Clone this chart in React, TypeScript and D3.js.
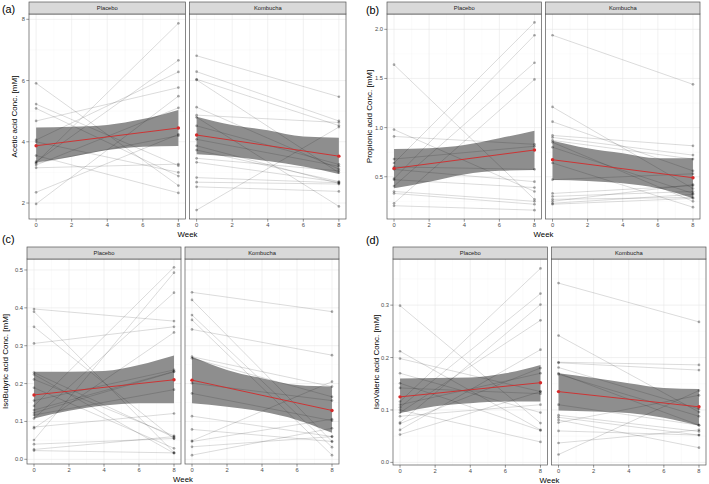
import React from 'react';
import * as d3 from 'd3';

const FONT = '"Liberation Sans", Arial, Helvetica, sans-serif';

const weekTicks = [0, 2, 4, 6, 8];
const bandWeeks = [0, 2, 4, 6, 8];

// (a) acetic acid, mM — one entry per subject, week 0 and week 8
const aceticPlacebo0 = [5.91, 5.23, 5.09, 4.68, 4.06, 4.0, 3.55, 3.35, 3.32, 3.3, 3.24, 3.15, 2.35, 1.97];
const aceticPlacebo8 = [2.57, 3.22, 2.88, 5.77, 6.28, 3.0, 2.33, 6.66, 7.87, 4.2, 5.11, 3.27, 4.24, 5.49];
const aceticPlaceboFit = [3.87, 4.45];
const aceticPlaceboLo = [3.32, 3.51, 3.73, 3.84, 3.86];
const aceticPlaceboHi = [4.47, 4.49, 4.55, 4.74, 5.04];

const aceticKombucha0 = [6.81, 6.29, 6.04, 6.02, 5.13, 4.87, 4.8, 4.52, 4.08, 3.87, 3.73, 3.46, 3.33, 2.83, 2.68, 2.53, 1.77];
const aceticKombucha8 = [5.47, 4.68, 4.53, 2.99, 3.11, 4.63, 1.89, 3.26, 3.2, 2.64, 2.7, 3.05, 2.68, 2.66, 2.62, 2.38, 4.48];
const aceticKombuchaFit = [4.22, 3.53];
const aceticKombuchaLo = [3.59, 3.51, 3.37, 3.19, 2.95];
const aceticKombuchaHi = [4.82, 4.55, 4.38, 4.17, 4.13];

// (b) propionic acid
const propPlacebo0 = [1.64, 0.98, 0.91, 0.68, 0.64, 0.6, 0.575, 0.48, 0.47, 0.405, 0.35, 0.33, 0.23, 0.205];
const propPlacebo8 = [0.27, 0.35, 0.83, 0.81, 2.07, 0.575, 0.45, 1.94, 0.39, 1.66, 0.25, 0.22, 1.49, 0.16];
const propPlaceboFit = [0.585, 0.772];
const propPlaceboLo = [0.382, 0.45, 0.524, 0.561, 0.568];
const propPlaceboHi = [0.782, 0.789, 0.822, 0.891, 0.968];

const propKombucha0 = [1.94, 1.21, 1.06, 0.92, 0.9, 0.87, 0.85, 0.8, 0.64, 0.47, 0.33, 0.3, 0.27, 0.25, 0.23, 0.22];
const propKombucha8 = [1.44, 0.38, 0.56, 0.815, 0.72, 0.68, 0.25, 0.33, 0.19, 0.53, 0.41, 0.35, 0.29, 0.42, 0.32, 0.28];
const propKombuchaFit = [0.673, 0.49];
const propKombuchaLo = [0.466, 0.456, 0.433, 0.382, 0.28];
const propKombuchaHi = [0.866, 0.789, 0.738, 0.687, 0.687];

// (c) isobutyric acid
const isoButPlacebo0 = [0.397, 0.39, 0.35, 0.306, 0.229, 0.224, 0.211, 0.189, 0.155, 0.141, 0.13, 0.123, 0.117, 0.108, 0.085, 0.082, 0.051, 0.04, 0.026, 0.023];
const isoButPlacebo8 = [0.365, 0.018, 0.054, 0.35, 0.058, 0.016, 0.062, 0.029, 0.236, 0.507, 0.232, 0.231, 0.184, 0.44, 0.121, 0.335, 0.493, 0.055, 0.06, 0.017];
const isoButPlaceboFit = [0.17, 0.21];
const isoButPlaceboLo = [0.108, 0.128, 0.142, 0.148, 0.148];
const isoButPlaceboHi = [0.231, 0.231, 0.233, 0.249, 0.274];

const isoButKombucha0 = [0.441, 0.421, 0.381, 0.368, 0.343, 0.271, 0.267, 0.201, 0.174, 0.114, 0.079, 0.049, 0.047, 0.033, 0.011];
const isoButKombucha8 = [0.39, 0.047, 0.032, 0.011, 0.275, 0.192, 0.165, 0.155, 0.102, 0.06, 0.047, 0.205, 0.106, 0.06, 0.082];
const isoButKombuchaFit = [0.209, 0.129];
const isoButKombuchaLo = [0.148, 0.139, 0.126, 0.104, 0.07];
const isoButKombuchaHi = [0.271, 0.236, 0.214, 0.196, 0.192];

// (d) isovaleric acid
const isoValPlacebo0 = [0.299, 0.212, 0.198, 0.17, 0.151, 0.142, 0.116, 0.11, 0.105, 0.1, 0.095, 0.088, 0.076, 0.074, 0.062, 0.053];
const isoValPlacebo8 = [0.075, 0.062, 0.135, 0.095, 0.061, 0.131, 0.37, 0.17, 0.322, 0.039, 0.271, 0.11, 0.301, 0.18, 0.215, 0.135];
const isoValPlaceboFit = [0.125, 0.152];
const isoValPlaceboLo = [0.094, 0.107, 0.113, 0.116, 0.116];
const isoValPlaceboHi = [0.16, 0.161, 0.162, 0.17, 0.186];

const isoValKombucha0 = [0.342, 0.242, 0.191, 0.19, 0.181, 0.17, 0.168, 0.11, 0.09, 0.086, 0.081, 0.076, 0.06, 0.037, 0.015];
const isoValKombucha8 = [0.268, 0.096, 0.186, 0.176, 0.102, 0.071, 0.088, 0.071, 0.059, 0.052, 0.028, 0.128, 0.052, 0.062, 0.137];
const isoValKombuchaFit = [0.135, 0.106];
const isoValKombuchaLo = [0.099, 0.097, 0.094, 0.085, 0.07];
const isoValKombuchaHi = [0.17, 0.161, 0.151, 0.142, 0.14];

const panels = [
  {
    tag: '(a)', title: 'Acetic acid Conc. [mM]', yTicks: [2, 4, 6, 8], fmt: d3.format('d'),
    yDomain: [1.478, 8.173], left: 29, right: 346, top: 2, bottom: 219, titleX: 17, tagX: 2, tagY: 13,
    facets: [
      { name: 'Placebo', w0: aceticPlacebo0, w8: aceticPlacebo8, fit: aceticPlaceboFit, lo: aceticPlaceboLo, hi: aceticPlaceboHi },
      { name: 'Kombucha', w0: aceticKombucha0, w8: aceticKombucha8, fit: aceticKombuchaFit, lo: aceticKombuchaLo, hi: aceticKombuchaHi },
    ],
  },
  {
    tag: '(b)', title: 'Propionic acid Conc. [mM]', yTicks: [0.5, 1.0, 1.5, 2.0], fmt: d3.format('.1f'),
    yDomain: [0.07, 2.156], left: 387, right: 700, top: 2, bottom: 219, titleX: 372, tagX: 366, tagY: 14,
    facets: [
      { name: 'Placebo', w0: propPlacebo0, w8: propPlacebo8, fit: propPlaceboFit, lo: propPlaceboLo, hi: propPlaceboHi },
      { name: 'Kombucha', w0: propKombucha0, w8: propKombucha8, fit: propKombuchaFit, lo: propKombuchaLo, hi: propKombuchaHi },
    ],
  },
  {
    tag: '(c)', title: 'IsoButyric acid Conc. [mM]', yTicks: [0, 0.1, 0.2, 0.3, 0.4, 0.5], fmt: d3.format('.1f'),
    yDomain: [-0.0124, 0.529], left: 27, right: 339, top: 247, bottom: 464, titleX: 8, tagX: 2, tagY: 243,
    facets: [
      { name: 'Placebo', w0: isoButPlacebo0, w8: isoButPlacebo8, fit: isoButPlaceboFit, lo: isoButPlaceboLo, hi: isoButPlaceboHi },
      { name: 'Kombucha', w0: isoButKombucha0, w8: isoButKombucha8, fit: isoButKombuchaFit, lo: isoButKombuchaLo, hi: isoButKombuchaHi },
    ],
  },
  {
    tag: '(d)', title: 'IsoValeric acid Conc. [mM]', yTicks: [0, 0.1, 0.2, 0.3], fmt: d3.format('.1f'),
    yDomain: [-0.005, 0.388], left: 393, right: 706, top: 247, bottom: 465, titleX: 379, tagX: 366, tagY: 244,
    facets: [
      { name: 'Placebo', w0: isoValPlacebo0, w8: isoValPlacebo8, fit: isoValPlaceboFit, lo: isoValPlaceboLo, hi: isoValPlaceboHi },
      { name: 'Kombucha', w0: isoValKombucha0, w8: isoValKombucha8, fit: isoValKombuchaFit, lo: isoValKombuchaLo, hi: isoValKombuchaHi },
    ],
  },
];

const STRIP_H = 12;
const GAP = 4;

function minorBreaks(ticks: number[], domain: number[]) {
  const step = ticks[1] - ticks[0];
  const out: number[] = [];
  for (let i = -1; i < ticks.length; i++) {
    const m = ticks[0] + (i + 0.5) * step;
    if (m > domain[0] && m < domain[1]) out.push(m);
  }
  return out;
}

function Panel({ p }: { p: any }) {
  const plotTop = p.top + STRIP_H;
  const facetW = (p.right - p.left - GAP) / 2;
  const y = d3.scaleLinear().domain(p.yDomain).range([p.bottom, plotTop]);
  const yMinor = minorBreaks(p.yTicks, p.yDomain);
  const xMinor = [1, 3, 5, 7];

  return (
    <g>
      <text x={p.tagX} y={p.tagY} fontSize={10.8} fill="#000">{p.tag}</text>
      <text transform={`translate(${p.titleX},${(plotTop + p.bottom) / 2}) rotate(-90)`} textAnchor="middle"
        fontSize={8} fill="#000">{p.title}</text>
      {p.yTicks.map((t: number) => (
        <g key={t}>
          <line x1={p.left - 2.7} x2={p.left} y1={y(t)} y2={y(t)} stroke="#333" strokeWidth={0.5} />
          <text x={p.left - 4} y={y(t) + 2} textAnchor="end" fontSize={5.8} fill="#4d4d4d">{p.fmt(t)}</text>
        </g>
      ))}
      <text x={(p.left + p.right) / 2} y={p.bottom + 17.5} textAnchor="middle" fontSize={7.8} fill="#000">Week</text>

      {p.facets.map((f: any, i: number) => {
        const x0 = p.left + i * (facetW + GAP);
        const x = d3.scaleLinear().domain([-0.4, 8.4]).range([x0, x0 + facetW]);
        const band = d3.area<number>()
          .x((_, k) => x(bandWeeks[k]))
          .y0((_, k) => y(f.lo[k]))
          .y1((_, k) => y(f.hi[k]))
          .curve(d3.curveMonotoneX);
        return (
          <g key={f.name}>
            <rect x={x0} y={plotTop} width={facetW} height={p.bottom - plotTop} fill="#fff" />
            {yMinor.map((t: number) => (
              <line key={'ym' + t} x1={x0} x2={x0 + facetW} y1={y(t)} y2={y(t)} stroke="#f2f2f2" strokeWidth={0.35} />
            ))}
            {xMinor.map(t => (
              <line key={'xm' + t} x1={x(t)} x2={x(t)} y1={plotTop} y2={p.bottom} stroke="#f2f2f2" strokeWidth={0.35} />
            ))}
            {p.yTicks.map((t: number) => (
              <line key={'y' + t} x1={x0} x2={x0 + facetW} y1={y(t)} y2={y(t)} stroke="#e8e8e8" strokeWidth={0.6} />
            ))}
            {weekTicks.map(t => (
              <line key={'x' + t} x1={x(t)} x2={x(t)} y1={plotTop} y2={p.bottom} stroke="#e8e8e8" strokeWidth={0.6} />
            ))}

            <path d={band(bandWeeks) || ''} fill="#8e8e8e" />

            {f.w0.map((v: number, k: number) => (
              <line key={'s' + k} x1={x(0)} y1={y(v)} x2={x(8)} y2={y(f.w8[k])}
                stroke="#000" strokeOpacity={0.24} strokeWidth={0.6} />
            ))}
            {f.w0.map((v: number, k: number) => (
              <g key={'p' + k}>
                <circle cx={x(0)} cy={y(v)} r={1.35} fill="#000" fillOpacity={0.32} />
                <circle cx={x(8)} cy={y(f.w8[k])} r={1.35} fill="#000" fillOpacity={0.32} />
              </g>
            ))}

            <line x1={x(0)} y1={y(f.fit[0])} x2={x(8)} y2={y(f.fit[1])} stroke="#d42a2a" strokeWidth={0.9} />
            <circle cx={x(0)} cy={y(f.fit[0])} r={1.7} fill="#d42a2a" />
            <circle cx={x(8)} cy={y(f.fit[1])} r={1.7} fill="#d42a2a" />

            <rect x={x0} y={plotTop} width={facetW} height={p.bottom - plotTop} fill="none" stroke="#555" strokeWidth={0.7} />
            <rect x={x0} y={p.top} width={facetW} height={STRIP_H} fill="#d9d9d9" stroke="#555" strokeWidth={0.7} />
            <text x={x0 + facetW / 2} y={p.top + 8} textAnchor="middle" fontSize={5.8} fill="#1a1a1a">{f.name}</text>

            {weekTicks.map(t => (
              <g key={'xt' + t}>
                <line x1={x(t)} x2={x(t)} y1={p.bottom} y2={p.bottom + 2.7} stroke="#333" strokeWidth={0.5} />
                <text x={x(t)} y={p.bottom + 8.3} textAnchor="middle" fontSize={5.8} fill="#4d4d4d">{t}</text>
              </g>
            ))}
          </g>
        );
      })}
    </g>
  );
}

export default function App() {
  return (
    <svg width={709} height={484} style={{ position: 'absolute', left: 0, top: 0, background: '#fff', fontFamily: FONT }}>
      <rect width={709} height={484} fill="#fff" />
      {panels.map(p => <Panel key={p.tag} p={p} />)}
    </svg>
  );
}
